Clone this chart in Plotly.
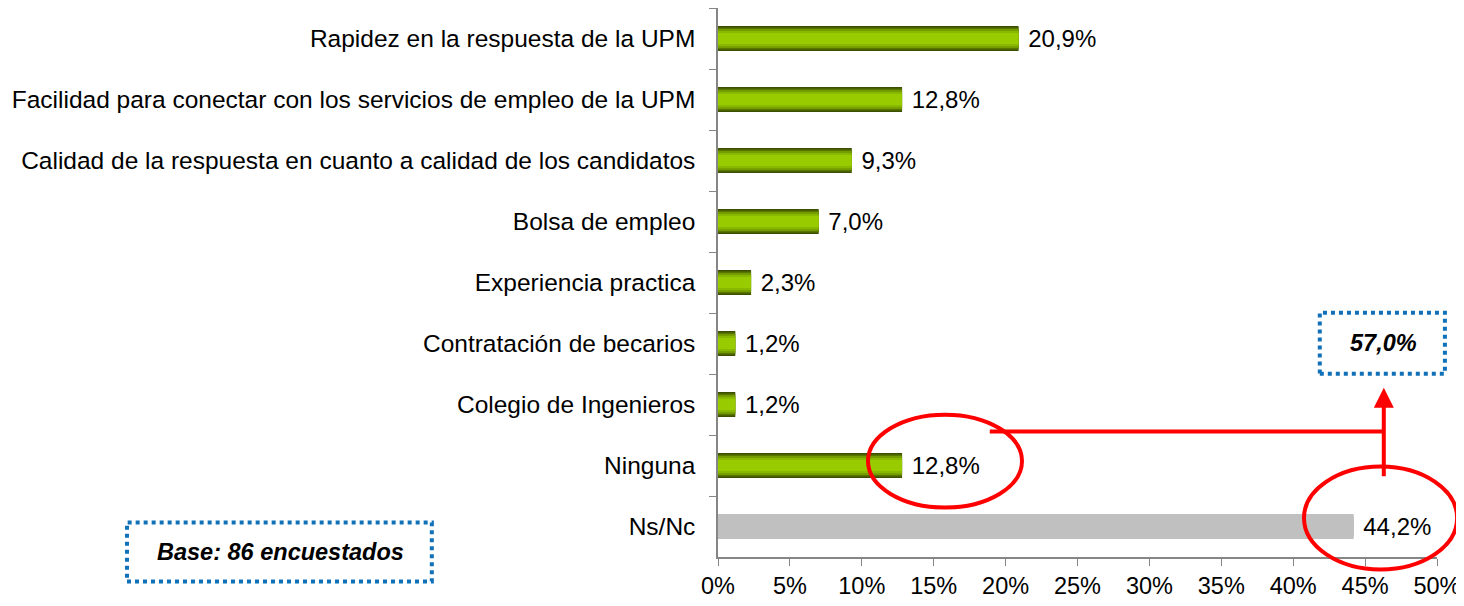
import plotly.graph_objects as go

categories = [
    "Rapidez en la respuesta de la UPM",
    "Facilidad para conectar con los servicios de empleo de la UPM",
    "Calidad de la respuesta en cuanto a calidad de los candidatos",
    "Bolsa de empleo",
    "Experiencia practica",
    "Contratación de becarios",
    "Colegio de Ingenieros",
    "Ninguna",
    "Ns/Nc",
]
values = [20.9, 12.8, 9.3, 7.0, 2.3, 1.2, 1.2, 12.8, 44.2]
labels = ["20,9%", "12,8%", "9,3%", "7,0%", "2,3%", "1,2%", "1,2%", "12,8%", "44,2%"]
x_ticks = [0, 5, 10, 15, 20, 25, 30, 35, 40, 45, 50]
x_tick_labels = ["0%", "5%", "10%", "15%", "20%", "25%", "30%", "35%", "40%", "45%", "50%"]
summary_label = "57,0%"
base_label = "Base: 86 encuestados"

FONT = "Liberation Sans, Arial, sans-serif"
GRAY = "#c0c0c0"
layer_widths = [0.41, 0.36, 0.31, 0.25, 0.18]
layer_colors = ["#3c4f00", "#587500", "#749b00", "#89b800", "#99cc00"]

fig = go.Figure()
for i, (w, c) in enumerate(zip(layer_widths, layer_colors)):
    cols = [GRAY if cat == "Ns/Nc" else c for cat in categories]
    fig.add_trace(go.Bar(
        y=categories, x=values, orientation="h",
        width=w, marker=dict(color=cols, line=dict(width=0)),
        text=[" " + t for t in labels] if i == 0 else None,
        textposition="outside" if i == 0 else "none",
        constraintext="none",
        textfont=dict(family=FONT, size=24, color="#000000"),
        cliponaxis=False, hoverinfo="skip", showlegend=False,
    ))

fig.update_layout(
    width=1464, height=606,
    margin=dict(l=710, r=35, t=0, b=57),
    barmode="overlay",
    plot_bgcolor="white", paper_bgcolor="white",
    font=dict(family=FONT, size=23.5, color="#000000"),
    showlegend=False,
    uniformtext=dict(mode=False) if False else None,
)
fig.update_yaxes(
    type="category", categoryorder="array", categoryarray=categories,
    autorange="reversed", showline=True, linecolor="#868686", linewidth=1.5,
    ticks="outside", ticklen=7, tickcolor="#868686", tickson="boundaries",
    ticklabelstandoff=16, showgrid=False, zeroline=False,
    tickfont=dict(family=FONT, size=24.5, color="#000000"),
)
fig.update_xaxes(
    range=[0, 50], tickvals=x_ticks, ticktext=x_tick_labels,
    showline=True, linecolor="#868686", linewidth=1.5,
    ticks="outside", ticklen=7, tickcolor="#868686",
    showgrid=False, zeroline=False, ticklabelstandoff=0,
    tickfont=dict(family=FONT, size=23.5, color="#000000"),
)

RED = "#ff0000"
BLUE = "#1070b8"
shapes = [
    dict(type="circle", xref="paper", yref="paper", x0=0.2086, x1=0.4228, y0=0.0901, y1=0.2593,
         line=dict(color=RED, width=4)),
    dict(type="circle", xref="paper", yref="paper", x0=0.815, x1=1.028, y0=-0.0228, y1=0.1647,
         line=dict(color=RED, width=4)),
    dict(type="line", xref="paper", yref="paper", x0=0.378, x1=0.926, y0=0.2284, y1=0.2284,
         line=dict(color=RED, width=4)),
    dict(type="rect", xref="paper", yref="paper", x0=0.837, x1=1.011, y0=0.334, y1=0.445,
         line=dict(color=BLUE, width=4, dash="dot")),
    dict(type="rect", xref="paper", yref="paper", x0=-0.822, x1=-0.398, y0=-0.0446, y1=0.0628,
         line=dict(color=BLUE, width=4, dash="dot")),
]
fig.update_layout(shapes=shapes)

fig.add_annotation(xref="paper", yref="paper", x=0.926, y=0.3085, ax=0, ay=90,
                   showarrow=True, arrowhead=2, arrowsize=1, arrowwidth=4, arrowcolor=RED,
                   text="", standoff=0)
fig.add_annotation(xref="paper", yref="paper", x=0.925, y=0.390, xanchor="center", yanchor="middle",
                   text="<b><i>" + summary_label + "</i></b>",
                   showarrow=False, font=dict(family=FONT, size=23.5, color="#000000"))
fig.add_annotation(xref="paper", yref="paper", x=-0.609, y=0.010, xanchor="center", yanchor="middle",
                   text="<b><i>" + base_label + "</i></b>",
                   showarrow=False, font=dict(family=FONT, size=23.5, color="#000000"))

fig.write_html("out.html")
